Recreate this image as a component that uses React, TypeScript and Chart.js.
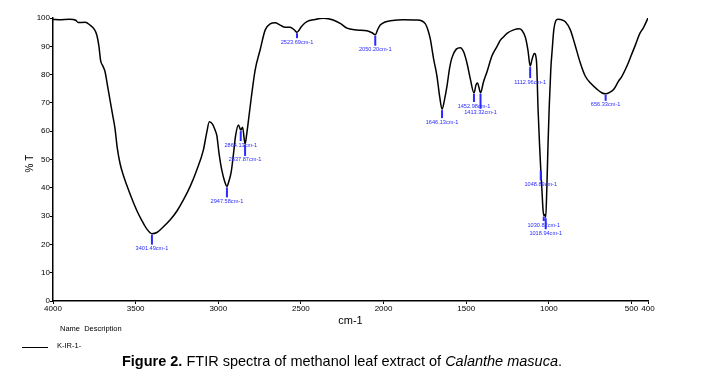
import React, { useEffect, useRef } from "react";
import { Chart, registerables } from "chart.js";
Chart.register(...registerables);

const wavenumbers = [
  4000, 3960, 3900, 3862, 3848, 3806, 3776, 3750, 3735, 3722, 3712, 3698, 3685, 3670, 3655, 3640, 3625, 3611, 3594, 3575,
  3554, 3525, 3493, 3463, 3433, 3401.49, 3372, 3340, 3292, 3250, 3211, 3170, 3130, 3090, 3070, 3054, 3035, 3020, 3009, 2995,
  2979, 2960, 2947.58, 2935, 2922, 2908, 2895, 2878, 2864.13, 2853, 2837.87, 2828, 2817, 2800, 2777, 2747, 2716, 2686, 2656, 2626,
  2595, 2565, 2540, 2523.69, 2494, 2464, 2414, 2363, 2305, 2260, 2222, 2160, 2101, 2070, 2050.2, 2035, 2020, 1990, 1959, 1880,
  1798, 1748, 1730, 1717, 1697, 1677, 1660, 1646.13, 1630, 1616, 1600, 1586, 1560, 1536, 1515, 1495, 1475, 1452.98, 1440, 1431,
  1423, 1413.32, 1395, 1374, 1345, 1313, 1293, 1273, 1253, 1213, 1180, 1162, 1142, 1126, 1112.96, 1101, 1088, 1075, 1065, 1056,
  1048.89, 1042, 1036, 1030.82, 1024, 1018.94, 1012, 1005, 998, 988, 980, 970, 958, 945, 930, 900, 870, 844, 809, 780,
  748, 708, 680, 656.33, 630, 607, 580, 557, 526, 500, 476, 450, 428, 400,
];
const transmittance = [
  99.5, 99.4, 99.6, 99.2, 98.4, 98.5, 97.5, 96, 94, 90, 85, 83, 81, 76, 71, 66, 61, 54, 48.5, 44.5,
  41, 36.5, 32, 28.5, 25.5, 23.8, 24.2, 25.8, 28.6, 31.8, 35.7, 40.5, 46.3, 53.4, 59.5, 63.3, 62.5, 60.5, 58.5, 52,
  46.3, 42, 40.5, 42.5, 45.5, 52, 58.5, 62.2, 60.4, 61.4, 55.5, 59, 64, 72, 81.6, 88.7, 95.8, 97.9, 98.3, 97.5,
  96.7, 96.7, 95.8, 95.0, 97.2, 98.7, 99.5, 99.9, 99.3, 98, 96.4, 95.8, 95.5, 94.8, 94.1, 96, 97.5, 98.6, 99, 99.4,
  99.3, 98, 95.5, 92.5, 85.5, 79.5, 72, 67.8, 71.5, 76, 82.5, 86, 89, 89.5, 88, 84, 78.5, 73.5, 76.5, 77,
  75.5, 73.6, 77.5, 81, 86.5, 90, 92.2, 93.4, 94.6, 95.8, 96.2, 95.6, 93.2, 88.5, 83, 85.5, 87.5, 85, 67.5, 55,
  46.5, 39.5, 33, 30.2, 30.6, 29.6, 40, 55, 68, 82, 88.5, 95.8, 99, 99.6, 99.5, 98.7, 95.8, 91, 84, 79.5,
  77, 74.8, 73.6, 73.2, 73.8, 74.8, 77.5, 79.5, 83.2, 87, 90.5, 94.5, 96.5, 100,
];
const xTickValues = [4000, 3500, 3000, 2500, 2000, 1500, 1000, 500, 400];
const yTickValues = [0, 10, 20, 30, 40, 50, 60, 70, 80, 90, 100];

const peakWavenumbers = [3401.49, 2947.58, 2864.13, 2837.87, 2523.69, 2050.2, 1646.13, 1452.98, 1413.32, 1112.96, 1048.89, 1030.82, 1018.94, 656.33];
const peakTransmittance = [23.8, 40.5, 60.4, 55.5, 95.0, 94.1, 67.8, 73.5, 73.6, 83, 46.5, 30.2, 29.6, 73.2];
const peakLabels = [
  "3401.49cm-1", "2947.58cm-1", "2864.13cm-1", "2837.87cm-1", "2523.69cm-1", "2050.20cm-1", "1646.13cm-1",
  "1452.98cm-1", "1413.32cm-1", "1112.96cm-1", "1048.89cm-1", "1030.82cm-1", "1018.94cm-1", "656.33cm-1",
];

const labelGaps = [15, 15, 15, 16, 10, 15, 13, 13, 20, 16, 15, 9.5, 16, 11];

const FONT = '"Liberation Sans", Arial, sans-serif';

const peakPlugin = {
  id: "peakMarks",
  afterDatasetsDraw(chart: any) {
    const { ctx, scales } = chart;
    const x = scales.x;
    const y = scales.y;
    ctx.save();
    peakWavenumbers.forEach((wn, i) => {
      const px = x.getPixelForValue(wn);
      const py = y.getPixelForValue(peakTransmittance[i]);
      const gap = labelGaps[i];
      ctx.strokeStyle = "#2a2aff";
      ctx.lineWidth = 2;
      ctx.beginPath();
      ctx.moveTo(px, py + 1);
      ctx.lineTo(px, py + gap - 4);
      ctx.stroke();
      ctx.fillStyle = "#2a2aff";
      ctx.font = `5.6px ${FONT}`;
      ctx.textAlign = "center";
      ctx.textBaseline = "middle";
      ctx.fillText(peakLabels[i], px, py + gap);
    });
    ctx.restore();
  },
  afterDraw(chart: any) {
    const { ctx, chartArea } = chart;
    ctx.save();
    ctx.fillStyle = "#000";
    ctx.font = `11px ${FONT}`;
    ctx.textAlign = "center";
    ctx.textBaseline = "middle";
    ctx.fillText("cm-1", (chartArea.left + chartArea.right) / 2, chartArea.bottom + 20);
    ctx.save();
    ctx.translate(chartArea.left - 23, (chartArea.top + chartArea.bottom) / 2 + 4);
    ctx.rotate(-Math.PI / 2);
    ctx.font = `10px ${FONT}`;
    ctx.fillText("% T", 0, 0);
    ctx.restore();
    ctx.font = `7.5px ${FONT}`;
    ctx.textAlign = "left";
    ctx.fillText("Name  Description", chartArea.left + 7, chartArea.bottom + 28);
    ctx.fillText("K-IR-1-", chartArea.left + 4, chartArea.bottom + 45);
    ctx.strokeStyle = "#000";
    ctx.lineWidth = 1;
    ctx.beginPath();
    ctx.moveTo(chartArea.left - 31, chartArea.bottom + 46.5);
    ctx.lineTo(chartArea.left - 5, chartArea.bottom + 46.5);
    ctx.stroke();
    ctx.restore();
  },
};

export default function App() {
  const ref = useRef<HTMLCanvasElement | null>(null);
  useEffect(() => {
    if (!ref.current) return;
    const data = wavenumbers.map((w, i) => ({ x: w, y: transmittance[i] }));
    const chart = new Chart(ref.current, {
      type: "line",
      data: {
        datasets: [
          {
            label: "K-IR-1-",
            data,
            borderColor: "#000",
            borderWidth: 1.5,
            pointRadius: 0,
            fill: false,
            cubicInterpolationMode: "monotone",
          },
        ],
      },
      options: {
        animation: false,
        responsive: false,
        devicePixelRatio: 1,
        layout: { padding: { top: 18, right: 77, left: 0, bottom: 0 } },
        plugins: { legend: { display: false }, tooltip: { enabled: false }, title: { display: false } },
        scales: {
          x: {
            type: "linear",
            min: 400,
            max: 4000,
            reverse: true,
            afterFit: (s: any) => {
              s.height = 85;
            },
            afterBuildTicks: (s: any) => {
              s.ticks = xTickValues.map((v) => ({ value: v }));
            },
            ticks: {
              autoSkip: false,
              maxRotation: 0,
              color: "#000",
              padding: 0,
              font: { family: FONT, size: 8 },
              callback: (v: any) => String(v),
            },
            grid: { display: true, drawOnChartArea: false, drawTicks: true, tickLength: 3, color: "#000" },
            border: { color: "#000", width: 1.5 },
          },
          y: {
            type: "linear",
            min: 0,
            max: 100,
            afterFit: (s: any) => {
              s.width = 53;
            },
            afterBuildTicks: (s: any) => {
              s.ticks = yTickValues.map((v) => ({ value: v }));
            },
            ticks: {
              autoSkip: false,
              color: "#000",
              padding: 0,
              font: { family: FONT, size: 8 },
              callback: (v: any) => String(v),
            },
            grid: { display: true, drawOnChartArea: false, drawTicks: true, tickLength: 3, color: "#000" },
            border: { color: "#000", width: 1.5 },
          },
        },
      },
      plugins: [peakPlugin],
    } as any);
    return () => chart.destroy();
  }, []);

  return (
    <div style={{ position: "absolute", left: 0, top: 0, width: 725, height: 386, background: "#fff" }}>
      <canvas ref={ref} width={725} height={386} style={{ position: "absolute", left: 0, top: 0 }} />
      <div
        style={{
          position: "absolute",
          left: 0,
          width: 684,
          top: 353,
          textAlign: "center",
          fontFamily: FONT,
          fontSize: 14.5,
          color: "#000",
          whiteSpace: "nowrap",
        }}
      >
        <b>Figure 2.</b> FTIR spectra of methanol leaf extract of <i>Calanthe masuca</i>.
      </div>
    </div>
  );
}
